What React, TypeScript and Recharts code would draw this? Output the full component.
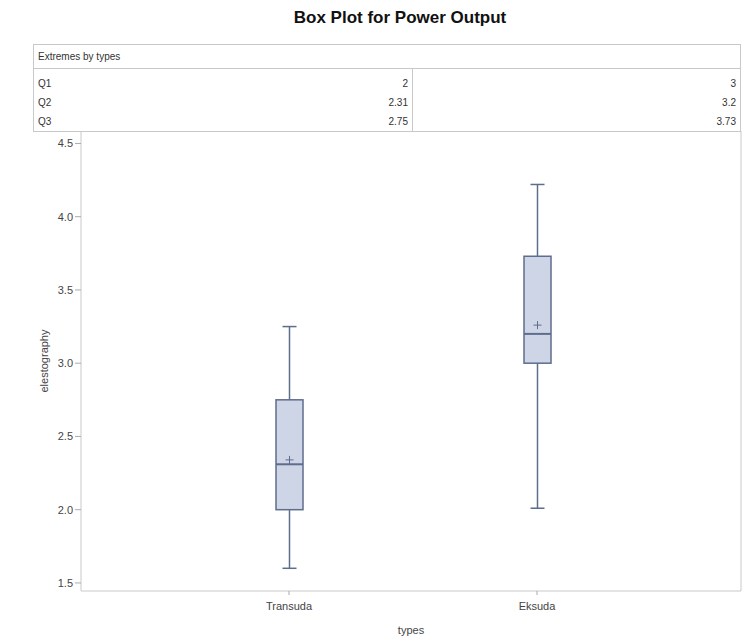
import React from 'react';
import { ComposedChart, Bar, XAxis, YAxis } from 'recharts';

const categories = ['Transuda', 'Eksuda'];
const minValues = [1.6, 2.01];
const q1Values = [2, 3];
const medianValues = [2.31, 3.2];
const q3Values = [2.75, 3.73];
const maxValues = [3.25, 4.22];
const meanValues = [2.34, 3.26];
const yTicks = [1.5, 2.0, 2.5, 3.0, 3.5, 4.0, 4.5];

const tableRows = ['Q1', 'Q2', 'Q3'];

const data = categories.map((name, i) => ({
  name,
  min: minValues[i],
  q1: q1Values[i],
  median: medianValues[i],
  q3: q3Values[i],
  max: maxValues[i],
  mean: meanValues[i],
  range: [minValues[i], maxValues[i]],
}));

const FONT = '"Liberation Sans", Arial, sans-serif';
const STROKE = '#5f6d8c';
const FILL = '#cdd5e7';
const FRAME = '#c9c9c9';

// draws the whole box from the bar's pixel span (min..max)
const BoxShape = (props: any) => {
  const { x, y, width, height, payload } = props;
  const top = Math.min(y, y + height);
  const h = Math.abs(height);
  const k = h / (payload.max - payload.min);
  const py = (v: number) => top + (payload.max - v) * k;
  const cx = x + width / 2;
  const cap = 7;
  return (
    <g>
      <line x1={cx} x2={cx} y1={py(payload.max)} y2={py(payload.q3)} stroke={STROKE} strokeWidth={1.5} />
      <line x1={cx} x2={cx} y1={py(payload.q1)} y2={py(payload.min)} stroke={STROKE} strokeWidth={1.5} />
      <line x1={cx - cap} x2={cx + cap} y1={py(payload.max)} y2={py(payload.max)} stroke={STROKE} strokeWidth={1.5} />
      <line x1={cx - cap} x2={cx + cap} y1={py(payload.min)} y2={py(payload.min)} stroke={STROKE} strokeWidth={1.5} />
      <rect x={x} y={py(payload.q3)} width={width} height={py(payload.q1) - py(payload.q3)} fill={FILL} stroke={STROKE} strokeWidth={1.5} />
      <line x1={x} x2={x + width} y1={py(payload.median)} y2={py(payload.median)} stroke={STROKE} strokeWidth={2} />
      <line x1={cx - 4} x2={cx + 4} y1={py(payload.mean)} y2={py(payload.mean)} stroke={STROKE} strokeWidth={1} />
      <line x1={cx} x2={cx} y1={py(payload.mean) - 4} y2={py(payload.mean) + 4} stroke={STROKE} strokeWidth={1} />
    </g>
  );
};

const cellStyle: React.CSSProperties = {
  padding: '0 4px',
  height: 19,
  lineHeight: '19px',
  fontSize: 10,
  color: '#333',
  whiteSpace: 'nowrap',
};

export default function App() {
  return (
    <div style={{ position: 'absolute', left: 0, top: 0, width: 749, height: 641, background: '#fff', fontFamily: FONT }}>
      <div style={{ position: 'absolute', left: 0, top: 8, width: 800, textAlign: 'center', fontSize: 17, fontWeight: 'bold', color: '#111' }}>
        Box Plot for Power Output
      </div>

      <table
        style={{
          position: 'absolute',
          left: 33,
          top: 44,
          width: 708,
          borderCollapse: 'collapse',
          border: `1px solid ${FRAME}`,
          fontFamily: FONT,
        }}
      >
        <tbody>
          <tr>
            <td colSpan={2} style={{ ...cellStyle, height: 23, lineHeight: '23px', borderBottom: `1px solid ${FRAME}` }}>Extremes by types</td>
          </tr>
          {tableRows.map((label, i) => {
            const src = i === 0 ? q1Values : i === 1 ? medianValues : q3Values;
            return (
              <tr key={label}>
                <td style={{ ...cellStyle, width: 370, borderRight: `1px solid ${FRAME}`, paddingTop: i === 0 ? 5 : 0 }}>
                  <span style={{ float: 'left' }}>{label}</span>
                  <span style={{ float: 'right' }}>{src[0]}</span>
                </td>
                <td style={{ ...cellStyle, textAlign: 'right', paddingTop: i === 0 ? 5 : 0 }}>{src[1]}</td>
              </tr>
            );
          })}
        </tbody>
      </table>

      <div style={{ position: 'absolute', left: 0, top: 0 }}>
        <ComposedChart width={749} height={641} data={data} margin={{ top: 131, right: 0, bottom: 0, left: 0 }}>
          <XAxis
            dataKey="name"
            height={50}
            padding={{ left: 84, right: 80 }}
            axisLine={{ stroke: FRAME }}
            tickLine={{ stroke: '#aaa' }}
            tickSize={4}
            tick={{ fontSize: 11, fill: '#444', fontFamily: FONT, dy: 5 }}
            label={{ value: 'types', position: 'insideBottom', offset: 7, style: { fontSize: 11, fill: '#444', fontFamily: FONT } }}
          />
          <YAxis
            yAxisId="l"
            width={81}
            type="number"
            domain={[1.445, 4.585]}
            ticks={yTicks}
            allowDataOverflow
            tickFormatter={(v: number) => v.toFixed(1)}
            axisLine={{ stroke: FRAME }}
            tickLine={{ stroke: '#aaa' }}
            tickSize={6}
            tick={{ fontSize: 11, fill: '#444', fontFamily: FONT }}
            label={{ value: 'elestography', angle: -90, position: 'insideLeft', offset: 44, style: { fontSize: 11, fill: '#444', fontFamily: FONT, textAnchor: 'middle' } }}
          />
          <YAxis
            yAxisId="r"
            orientation="right"
            width={8}
            type="number"
            domain={[0, 1]}
            tick={false}
            tickLine={false}
            axisLine={{ stroke: FRAME }}
          />
          <Bar yAxisId="l" dataKey="range" barSize={27} shape={BoxShape} isAnimationActive={false} />
        </ComposedChart>
      </div>
    </div>
  );
}
